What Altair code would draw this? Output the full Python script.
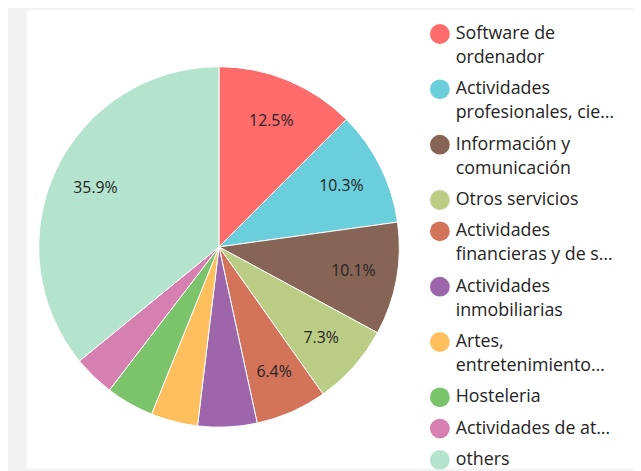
import altair as alt
import pandas as pd

# ---- data ----
categories = [
    "Software de ordenador",
    "Actividades profesionales, científicas y técnicas",
    "Información y comunicación",
    "Otros servicios",
    "Actividades financieras y de seguros",
    "Actividades inmobiliarias",
    "Artes, entretenimiento y recreación",
    "Hosteleria",
    "Actividades de atención sanitaria",
    "others",
]
values = [12.5, 10.3, 10.1, 7.3, 6.4, 5.3, 4.2, 4.3, 3.7, 35.9]
legend_lines = [
    ["Software de", "ordenador"],
    ["Actividades", "profesionales, cie…"],
    ["Información y", "comunicación"],
    ["Otros servicios"],
    ["Actividades", "financieras y de s…"],
    ["Actividades", "inmobiliarias"],
    ["Artes,", "entretenimiento…"],
    ["Hosteleria"],
    ["Actividades de at…"],
    ["others"],
]
colors = [
    "#FD6B6B", "#6ACFDB", "#876556", "#BBCC85", "#D3745A",
    "#9D66AB", "#FFBF5E", "#7BC46C", "#D67FB1", "#B4E4CE",
]

# ---- tables ----
pie_df = pd.DataFrame({"idx": list(range(len(categories))),
                       "category": categories, "value": values})

ENTRY_GAP = 0.3  # extra spacing between legend entries, in line units
sym_rows, line_rows = [], []
line_no = 0
for i, (cat, lines) in enumerate(zip(categories, legend_lines)):
    first = line_no + ENTRY_GAP * i
    sym_rows.append({"category": cat, "pos": first})
    for j, ln in enumerate(lines):
        line_rows.append({"category": cat, "line": ln, "pos": first + j})
    line_no += len(lines)
sym_df = pd.DataFrame(sym_rows)
line_df = pd.DataFrame(line_rows)
max_pos = max(r["pos"] for r in line_rows)

FONT = "Open Sans"
TEXT_COLOR = "#252423"
CX, CY, R = 194, 239, 182

color_scale = alt.Scale(domain=categories, range=colors)
y_scale = alt.Scale(domain=[0, max_pos], range=[24, 454])

base = alt.Chart(pie_df).transform_joinaggregate(
    total="sum(value)"
).transform_calculate(
    pct="100 * datum.value / datum.total",
    label="datum.pct >= 6 ? format(datum.pct, '.1f') + '%' : ''",
).encode(
    theta=alt.Theta("value:Q", stack=True),
    order=alt.Order("idx:Q"),
    x=alt.value(CX),
    y=alt.value(CY),
)

arcs = base.mark_arc(radius=R, stroke="white", strokeWidth=1).encode(
    color=alt.Color("category:N", scale=color_scale, legend=None)
)

labels = base.mark_text(radius=138, font=FONT, fontSize=16, color=TEXT_COLOR).encode(
    text="label:N"
)

leg_sym = alt.Chart(sym_df).mark_circle(size=400, opacity=1).encode(
    x=alt.value(417),
    y=alt.Y("pos:Q", scale=y_scale, axis=None),
    color=alt.Color("category:N", scale=color_scale, legend=None),
)

leg_txt = alt.Chart(line_df).mark_text(
    align="left", baseline="middle", font=FONT, fontSize=18, color=TEXT_COLOR
).encode(
    x=alt.value(433),
    y=alt.Y("pos:Q", scale=y_scale, axis=None),
    text="line:N",
)

chart = alt.layer(arcs, labels, leg_sym, leg_txt).properties(
    width=612, height=463,
    padding={"left": 19, "top": 0, "right": 0, "bottom": 0},
    background="#f3f3f3",
).configure_view(fill="white", stroke=None)

chart.save("out.html", embed_options={"renderer": "svg", "actions": False})
